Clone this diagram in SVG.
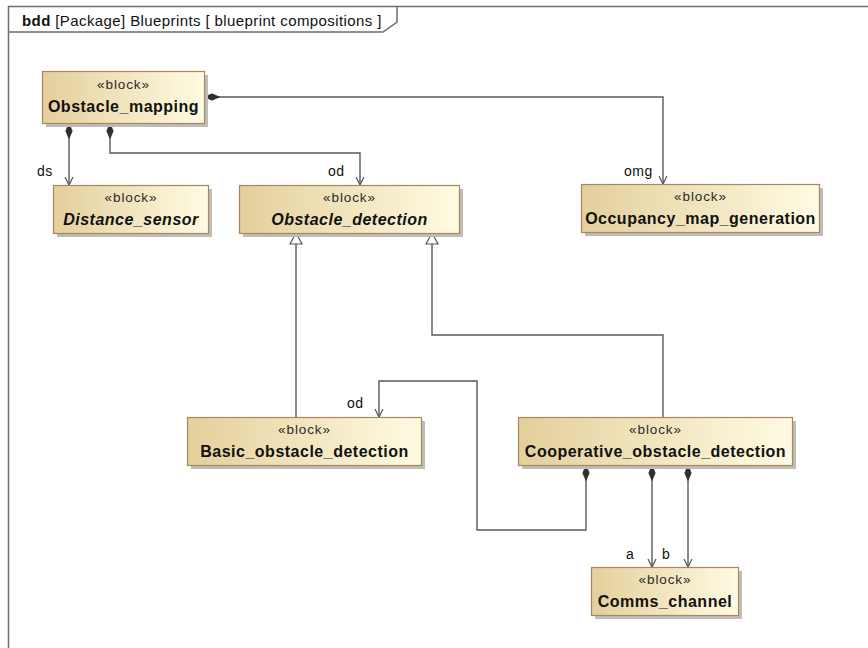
<svg xmlns="http://www.w3.org/2000/svg" width="868" height="648" viewBox="0 0 868 648">
  <defs>
    <linearGradient id="blockFill" x1="0" y1="0" x2="1" y2="0">
      <stop offset="0" stop-color="#e4cf9c"/>
      <stop offset="1" stop-color="#fffbe2"/>
    </linearGradient>
    <!-- composition: filled diamond at the owner end -->
    <marker id="diamond" viewBox="0 0 16 8" refX="0" refY="4" markerWidth="16" markerHeight="8" markerUnits="userSpaceOnUse" orient="auto" overflow="visible">
      <path d="M0.5,4 L8,0.8 L15.5,4 L8,7.2 Z" fill="#2e2e2e" stroke="#2e2e2e" stroke-width="0.8" stroke-linejoin="round"/>
    </marker>
    <!-- open arrowhead at the part end -->
    <marker id="openArrow" viewBox="0 0 10 10" refX="9" refY="5" markerWidth="10" markerHeight="10" markerUnits="userSpaceOnUse" orient="auto">
      <path d="M1,1 L9,5 L1,9" fill="none" stroke="#555" stroke-width="1.2"/>
    </marker>
    <!-- generalization: hollow triangle -->
    <marker id="hollowTri" viewBox="0 0 14 14" refX="12" refY="7" markerWidth="14" markerHeight="14" markerUnits="userSpaceOnUse" orient="auto">
      <path d="M1,1 L12,7 L1,13 Z" fill="#fff" stroke="#555" stroke-width="1.2"/>
    </marker>
  </defs>
  <style>
    .frame { fill: none; stroke: #6e6e6e; stroke-width: 1.5; }
    .box { fill: url(#blockFill); stroke: #a8875a; stroke-width: 1.2; }
    .shadow { fill: #bdbdbd; }
    .stereo { font-family: "Liberation Sans", Arial, sans-serif; font-size: 13.5px; letter-spacing: 0.9px; fill: #2a2a2a; text-anchor: middle; }
    .name { font-family: "Liberation Sans", Arial, sans-serif; font-size: 16px; letter-spacing: 0.5px; font-weight: bold; fill: #111; text-anchor: middle; }
    .abstract { font-style: italic; }
    .role { font-family: "Liberation Sans", Arial, sans-serif; font-size: 14px; letter-spacing: 0.5px; fill: #111; }
    .title { font-family: "Liberation Sans", Arial, sans-serif; font-size: 15px; letter-spacing: 0.4px; fill: #111; }
    .conn { fill: none; stroke: #5a5a5a; stroke-width: 1.4; }
  </style>

  <rect width="868" height="648" fill="#fff"/>

  <!-- diagram frame -->
  <g id="frame">
    <path class="frame" d="M8.5,660 L8.5,6.5 L880,6.5"/>
    <path class="frame" d="M8.5,32 L383,32 L397,22 L397,6.5"/>
    <text class="title" x="22" y="26"><tspan font-weight="bold">bdd</tspan> [Package] Blueprints [ blueprint compositions ]</text>
  </g>

  <!-- connectors -->
  <g id="connectors">
    <!-- ds -->
    <path class="conn" d="M69,123 L69,185" marker-start="url(#diamond)" marker-end="url(#openArrow)"/>
    <!-- od (Obstacle_mapping) -->
    <path class="conn" d="M110,123 L110,153 L360,153 L360,185" marker-start="url(#diamond)" marker-end="url(#openArrow)"/>
    <!-- omg -->
    <path class="conn" d="M204,97 L663,97 L663,184" marker-start="url(#diamond)" marker-end="url(#openArrow)"/>
    <!-- generalizations -->
    <path class="conn" d="M296,417 L296,233" marker-end="url(#hollowTri)"/>
    <path class="conn" d="M663,417 L663,335 L432,335 L432,233" marker-end="url(#hollowTri)"/>
    <!-- od (Cooperative_obstacle_detection) -->
    <path class="conn" d="M586,465 L586,530 L477,530 L477,381 L379,381 L379,417" marker-start="url(#diamond)" marker-end="url(#openArrow)"/>
    <!-- a, b -->
    <path class="conn" d="M652,465 L652,567" marker-start="url(#diamond)" marker-end="url(#openArrow)"/>
    <path class="conn" d="M688,465 L688,567" marker-start="url(#diamond)" marker-end="url(#openArrow)"/>
    <text class="role" x="37" y="176">ds</text>
    <text class="role" x="328" y="176">od</text>
    <text class="role" x="624" y="176">omg</text>
    <text class="role" x="347" y="408">od</text>
    <text class="role" x="626" y="559">a</text>
    <text class="role" x="662" y="559">b</text>
  </g>

  <g id="Obstacle_mapping">
    <rect class="shadow" x="46" y="75" width="162" height="52"/>
    <rect class="box" x="42.5" y="71.5" width="162" height="52"/>
    <text class="stereo" x="123.5" y="89">«block»</text>
    <text class="name" x="123.5" y="112">Obstacle_mapping</text>
  </g>

  <g id="Distance_sensor">
    <rect class="shadow" x="57" y="189" width="155" height="48"/>
    <rect class="box" x="53.5" y="185.5" width="155" height="48"/>
    <text class="stereo" x="131" y="202">«block»</text>
    <text class="name abstract" x="131" y="225">Distance_sensor</text>
  </g>

  <g id="Obstacle_detection">
    <rect class="shadow" x="243" y="189" width="220" height="48"/>
    <rect class="box" x="239.5" y="185.5" width="220" height="48"/>
    <text class="stereo" x="349.5" y="202">«block»</text>
    <text class="name abstract" x="349.5" y="225">Obstacle_detection</text>
  </g>

  <g id="Occupancy_map_generation">
    <rect class="shadow" x="585" y="188" width="238" height="48"/>
    <rect class="box" x="581.5" y="184.5" width="238" height="48"/>
    <text class="stereo" x="700.5" y="201">«block»</text>
    <text class="name" x="700.5" y="224">Occupancy_map_generation</text>
  </g>

  <g id="Basic_obstacle_detection">
    <rect class="shadow" x="191" y="421" width="234" height="48"/>
    <rect class="box" x="187.5" y="417.5" width="234" height="48"/>
    <text class="stereo" x="304.5" y="434">«block»</text>
    <text class="name" x="304.5" y="457">Basic_obstacle_detection</text>
  </g>

  <g id="Cooperative_obstacle_detection">
    <rect class="shadow" x="522" y="421" width="274" height="48"/>
    <rect class="box" x="518.5" y="417.5" width="274" height="48"/>
    <text class="stereo" x="655.5" y="434">«block»</text>
    <text class="name" x="655.5" y="457">Cooperative_obstacle_detection</text>
  </g>

  <g id="Comms_channel">
    <rect class="shadow" x="595" y="571" width="147" height="48"/>
    <rect class="box" x="591.5" y="567.5" width="147" height="48"/>
    <text class="stereo" x="665" y="584">«block»</text>
    <text class="name" x="665" y="607">Comms_channel</text>
  </g>
</svg>
